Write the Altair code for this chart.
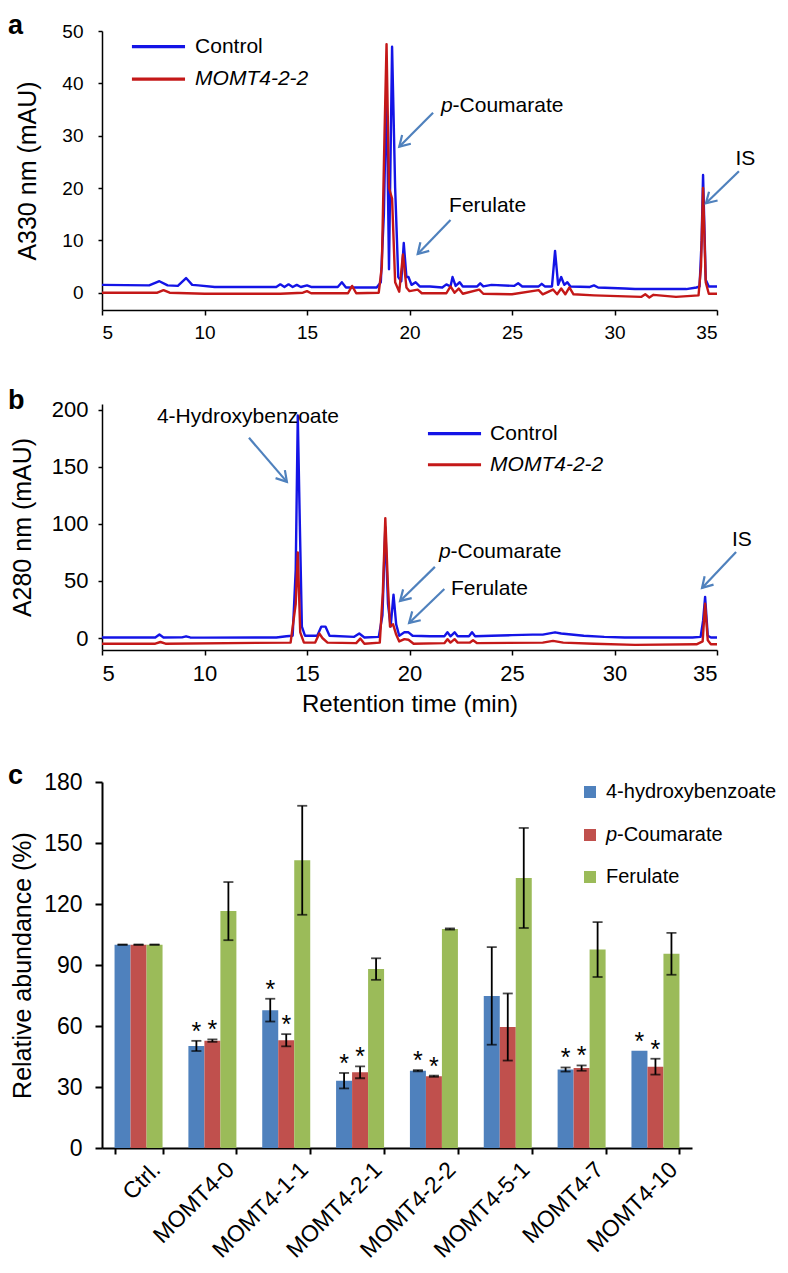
import math
import altair as alt
import pandas as pd

# ---------------- Panel a : A330 chromatograms (time min, mAU) ----------------
control_a = [(5.0, 1.5), (7.3, 1.4), (7.8, 2.2), (8.2, 1.4), (8.7, 1.3), (9.1, 2.8), (9.4, 1.5), (9.7, 1.4),
             (10.5, 1.1), (13.5, 1.1), (13.7, 1.6), (13.9, 1.1), (14.1, 1.6), (14.3, 1.1), (14.5, 1.5),
             (14.7, 1.1), (15.0, 1.4), (15.2, 1.1), (16.5, 1.1), (16.7, 2.0), (16.9, 1.0), (18.4, 1.0),
             (18.6, 2.0), (18.75, 15.0), (18.88, 40.0), (19.0, 4.5), (19.15, 47.0), (19.3, 20.0), (19.45, 3.0),
             (19.6, 2.2), (19.72, 9.5), (19.85, 3.0), (19.95, 3.0), (20.1, 1.5), (20.3, 2.0), (20.5, 1.2),
             (21.0, 1.2), (21.6, 1.0), (21.8, 1.6), (22.0, 1.2), (22.1, 3.0), (22.25, 1.3), (22.45, 2.0),
             (22.6, 1.2), (23.3, 1.2), (23.45, 1.8), (23.6, 1.2), (24.0, 1.5), (25.1, 1.3), (25.3, 1.8),
             (25.5, 1.2), (26.3, 1.2), (26.45, 1.7), (26.6, 1.2), (26.95, 1.2), (27.1, 8.0), (27.25, 1.5),
             (27.4, 3.0), (27.55, 1.5), (27.7, 2.0), (27.85, 1.2), (28.8, 1.1), (29.0, 1.4), (29.2, 1.0),
             (30.5, 0.8), (31.0, 0.7), (33.5, 0.7), (34.0, 1.0), (34.15, 1.2), (34.25, 10.0), (34.32, 22.5),
             (34.45, 2.5), (34.6, 1.2), (35.0, 1.2)]
momt_a = [(5.0, 0.0), (7.7, 0.0), (8.0, 0.5), (8.3, 0.0), (10.0, -0.2), (13.7, -0.2), (14.8, 0.0), (15.0, 0.3),
          (15.2, -0.1), (17.0, -0.1), (17.2, 1.3), (17.4, -0.1), (18.5, 0.0), (18.65, 5.0), (18.78, 30.0),
          (18.88, 47.5), (19.0, 20.0), (19.15, 18.0), (19.3, 2.0), (19.5, 0.2), (19.68, 7.3), (19.85, 1.0),
          (20.0, 0.3), (20.4, 0.6), (20.6, -0.1), (21.8, -0.1), (22.0, 1.2), (22.2, 0.0), (22.4, 0.8),
          (22.6, -0.2), (23.4, 0.6), (23.6, -0.2), (25.0, -0.3), (26.3, 0.5), (26.5, -0.3), (27.0, 0.6),
          (27.2, -0.3), (27.4, 0.8), (27.6, -0.3), (27.8, 1.0), (28.0, -0.3), (29.0, -0.5), (31.3, -0.8),
          (31.5, -0.3), (31.7, -0.9), (31.9, -0.4), (33.0, -0.8), (34.1, -0.5), (34.22, 5.0), (34.32, 20.0),
          (34.45, 2.0), (34.6, -0.2), (35.0, -0.2)]

# ---------------- Panel b : A280 chromatograms ----------------
control_b = [(5.0, 0.5), (7.6, 0.5), (7.8, 3.0), (8.0, 0.5), (8.9, 0.6), (9.1, 1.5), (9.3, 0.5), (10.0, 0.3),
             (13.5, 0.5), (14.0, 1.5), (14.3, 2.0), (14.45, 60.0), (14.55, 195.0), (14.65, 100.0),
             (14.75, 10.0), (14.9, 2.0), (15.5, 2.0), (15.7, 10.0), (15.9, 10.0), (16.1, 2.0), (17.3, 1.0),
             (17.55, 4.0), (17.8, 0.5), (18.5, 1.0), (18.68, 20.0), (18.82, 97.0), (18.95, 30.0), (19.08, 10.0),
             (19.22, 38.0), (19.35, 12.0), (19.5, 2.0), (19.75, 5.0), (19.95, 5.0), (20.15, 2.0), (21.0, 1.5),
             (21.7, 1.5), (21.85, 5.0), (22.0, 1.5), (22.2, 5.0), (22.35, 1.5), (22.9, 1.5), (23.05, 5.0),
             (23.2, 1.5), (24.0, 2.0), (25.0, 2.5), (26.0, 3.0), (26.5, 3.0), (27.1, 5.0), (27.4, 4.0),
             (28.5, 2.0), (29.5, 1.0), (30.5, 0.5), (33.8, 0.5), (34.2, 1.0), (34.32, 15.0), (34.42, 36.0),
             (34.55, 2.0), (34.7, 0.5), (35.0, 0.5)]
momt_b = [(5.0, -5.0), (7.6, -5.0), (7.85, -3.5), (8.1, -5.0), (14.2, -4.0), (14.45, 30.0), (14.55, 75.0),
          (14.67, 5.0), (14.85, -4.0), (15.4, -4.0), (15.6, 4.0), (15.75, 0.0), (16.0, -4.0), (17.4, -4.5),
          (17.6, -0.5), (17.8, -5.0), (18.55, -4.0), (18.7, 40.0), (18.82, 105.0), (18.95, 45.0),
          (19.05, 10.0), (19.2, 12.0), (19.35, 3.0), (19.5, -3.0), (19.75, -1.0), (19.95, -1.5),
          (20.2, -5.0), (21.7, -4.5), (21.85, -1.0), (22.0, -4.0), (22.2, -1.0), (22.35, -4.0),
          (22.95, -4.0), (23.1, -2.0), (23.3, -4.5), (26.5, -4.0), (27.0, -2.5), (27.5, -4.0), (29.0, -5.0),
          (31.0, -6.0), (34.0, -5.5), (34.3, -3.0), (34.42, 30.0), (34.55, -2.0), (34.7, -5.5), (35.0, -5.5)]

# annotations (text, t, value, italic leading "p")
labels_a = [("Coumarate", 21.54, 35.7, True), ("Ferulate", 21.93, 16.5, False), ("IS", 35.9, 25.6, False)]
labels_b = [("Coumarate", 21.44, 75.4, True), ("Ferulate", 22.02, 43.0, False), ("IS", 35.73, 86.0, False)]
label_b_hb = ("4-Hydroxybenzoate", 12.12, 193.9)
# arrows (tail t, tail v, tip t, tip v)
arrows_a = [(21.15, 34.4, 19.5, 27.9), (22.0, 13.9, 20.4, 7.4), (36.07, 23.2, 34.46, 17.1)]
arrows_b = [(12.17, 175.4, 14.02, 136.8), (21.24, 62.3, 19.54, 32.5), (21.7, 43.0, 19.98, 13.2),
            (35.93, 75.4, 34.27, 43.9)]
legend_names = ["Control", "MOMT4-2-2"]

# ---------------- Panel c : relative abundance ----------------
groups = ["Ctrl.", "MOMT4-0", "MOMT4-1-1", "MOMT4-2-1", "MOMT4-2-2", "MOMT4-5-1", "MOMT4-7", "MOMT4-10"]
series_c = ["4-hydroxybenzoate", "p-Coumarate", "Ferulate"]
hba_mean = [100, 50.2, 67.8, 33.1, 38.0, 74.8, 38.6, 47.8]
hba_err = [0, 2.5, 5.6, 3.8, 0.3, 24.0, 1.0, None]
pca_mean = [100, 52.8, 53.0, 37.2, 35.3, 59.5, 39.3, 40.0]
pca_err = [0, 0.6, 3.0, 2.9, 0.3, 16.5, 1.3, 3.9]
fer_mean = [100, 116.5, 141.5, 88.0, 107.7, 132.8, 97.6, 95.5]
fer_err = [0, 14.3, 26.8, 5.3, 0.3, 24.6, 13.5, 10.3]
sig_hba = [0, 1, 1, 1, 1, 0, 1, 1]
sig_pca = [0, 1, 1, 1, 1, 0, 1, 1]
sig_fer = [0, 0, 0, 0, 0, 0, 0, 0]

# ---------------- styles ----------------
SANS = "Liberation Sans, Arial, Helvetica, sans-serif"
NARROW = "Liberation Sans Narrow, Liberation Sans, Arial, sans-serif"
BLUE_LINE = "#1414e6"
RED_LINE = "#c41818"
ARROW = "#4f81bd"
BAR_COLORS = ["#4f81bd", "#c0504d", "#9bbb59"]
LETTER_X = -94
LETTER_SIZE = 27
ANN_SIZE = 21


def letter_layers(letter, baseline_y, guard=False):
    out = [alt.Chart(pd.DataFrame({"s": [letter]})).mark_text(
        align="left", baseline="alphabetic", fontSize=LETTER_SIZE, fontWeight="bold", font=SANS,
        color="black").encode(text="s:N", x=alt.value(LETTER_X), y=alt.value(baseline_y))]
    if guard:
        # invisible point so the layout leaves room for the full font ascent of the letter
        out.append(alt.Chart(pd.DataFrame({"s": [letter]})).mark_point(size=1, opacity=0).encode(
            x=alt.value(LETTER_X + 6), y=alt.value(baseline_y - 0.92 * LETTER_SIZE)))
    return out


def chrom_panel(ctrl, momt, W, H, ydom, yvals, ytitle, tick_font, tick_size, ylabpad, ytitlepad,
                xtitle, labels, arrows, leg, letter, letter_y, guard=False, extra_label=None):
    xaxis = alt.Axis(values=[5, 10, 15, 20, 25, 30, 35], title=xtitle, grid=False, tickSize=5,
                     labelPadding=8, labelFont=tick_font, labelFontSize=tick_size, titleFont=SANS,
                     titleFontSize=24, titleFontWeight="normal", titlePadding=8, domainWidth=1.5,
                     tickWidth=1.5, domainColor="black", tickColor="black", labelColor="black",
                     titleColor="black")
    yaxis = alt.Axis(values=yvals, title=ytitle, grid=False, tickSize=4, labelPadding=ylabpad,
                     labelFont=tick_font, labelFontSize=tick_size, titleFont=SANS, titleFontSize=25,
                     titleFontWeight="normal", titlePadding=ytitlepad, domainWidth=1.5, tickWidth=1.5,
                     domainColor="black", tickColor="black", labelColor="black", titleColor="black")
    xs = alt.Scale(domain=[5, 35], nice=False, zero=False)
    ys = alt.Scale(domain=list(ydom), nice=False, zero=False)

    def X(f):
        return alt.X(f"{f}:Q", scale=xs, axis=xaxis, title=xtitle)

    def Y(f):
        return alt.Y(f"{f}:Q", scale=ys, axis=yaxis, title=ytitle)

    d_ctrl = pd.DataFrame(ctrl, columns=["t", "v"])
    d_momt = pd.DataFrame(momt, columns=["t", "v"])
    layers = [
        alt.Chart(d_ctrl).mark_line(color=BLUE_LINE, strokeWidth=2.4, strokeJoin="round").encode(
            x=X("t"), y=Y("v"), order="t:Q"),
        alt.Chart(d_momt).mark_line(color=RED_LINE, strokeWidth=2.4, strokeJoin="round").encode(
            x=X("t"), y=Y("v"), order="t:Q"),
    ]
    # arrows
    rows = []
    for (t0, v0, t1, v1) in arrows:
        px0 = (t0 - 5) / 30 * W
        px1 = (t1 - 5) / 30 * W
        py0 = (ydom[1] - v0) / (ydom[1] - ydom[0]) * H
        py1 = (ydom[1] - v1) / (ydom[1] - ydom[0]) * H
        ang = math.degrees(math.atan2(py1 - py0, px1 - px0)) % 360
        rows.append(dict(t=t0, v=v0, t2=t1, v2=v1, ang=ang))
    d_arr = pd.DataFrame(rows)
    layers.append(alt.Chart(d_arr).mark_rule(color=ARROW, strokeWidth=2.2).encode(
        x=X("t"), y=Y("v"), x2="t2:Q", y2="v2:Q"))
    layers.append(alt.Chart(d_arr).mark_point(shape="M-1,-0.6L0,0L-1,0.6", filled=False, size=420,
                                              strokeWidth=2.2, color=ARROW, opacity=1).encode(
        x=X("t2"), y=Y("v2"), angle=alt.Angle("ang:Q", scale=None)))
    # texts
    for (txt, t, v, ital) in labels:
        d = pd.DataFrame({"t": [t], "v": [v], "s": [txt]})
        if ital:
            layers.append(alt.Chart(pd.DataFrame({"t": [t], "v": [v], "s": ["p"]})).mark_text(
                align="left", baseline="middle", fontSize=ANN_SIZE, font=SANS, fontStyle="italic",
                color="black").encode(x=X("t"), y=Y("v"), text="s:N"))
            d = pd.DataFrame({"t": [t], "v": [v], "s": ["-" + txt]})
            layers.append(alt.Chart(d).mark_text(align="left", baseline="middle", fontSize=ANN_SIZE,
                                                 font=SANS, dx=11.5, color="black").encode(
                x=X("t"), y=Y("v"), text="s:N"))
        else:
            layers.append(alt.Chart(d).mark_text(align="left", baseline="middle", fontSize=ANN_SIZE,
                                                 font=SANS, color="black").encode(
                x=X("t"), y=Y("v"), text="s:N"))
    if extra_label is not None:
        txt, t, v = extra_label
        d = pd.DataFrame({"t": [t], "v": [v], "s": [txt]})
        layers.append(alt.Chart(d).mark_text(align="center", baseline="middle", fontSize=ANN_SIZE, font=SANS,
                                             color="black").encode(x=X("t"), y=Y("v"), text="s:N"))
    # legend
    (lt0, lt1, ltx, lv) = leg
    for name, col, vv, ital in zip(legend_names, [BLUE_LINE, RED_LINE], lv, [False, True]):
        d = pd.DataFrame({"t": [lt0], "t2": [lt1], "v": [vv], "tx": [ltx], "s": [name]})
        layers.append(alt.Chart(d).mark_rule(color=col, strokeWidth=3.2).encode(
            x=X("t"), x2="t2:Q", y=Y("v")))
        layers.append(alt.Chart(d).mark_text(align="left", baseline="middle", fontSize=ANN_SIZE, font=SANS,
                                             fontStyle="italic" if ital else "normal", color="black").encode(
            x=X("tx"), y=Y("v"), text="s:N"))
    layers += letter_layers(letter, letter_y, guard)
    return alt.layer(*layers).properties(width=W, height=H)


panel_a = chrom_panel(control_a, momt_a, 615, 279, (-3.3, 50), [0, 10, 20, 30, 40, 50], "A330 nm (mAU)",
                      NARROW, 19, 15, 21, None, labels_a, arrows_a,
                      (6.46, 9.05, 9.54, [47.0, 40.8]), "a", 3, guard=True)
panel_b = chrom_panel(control_b, momt_b, 615, 246, (-10.5, 205), [0, 50, 100, 150, 200], "A280 nm (mAU)",
                      SANS, 22, 10, 16, "Retention time (min)", labels_b, arrows_b,
                      (20.9, 23.49, 23.93, [179.0, 151.8]), "b", 5, extra_label=label_b_hb)

# ---------------- Panel c ----------------
rows = []
for i, g in enumerate(groups):
    for s, means, errs, sig in zip(series_c, [hba_mean, pca_mean, fer_mean], [hba_err, pca_err, fer_err],
                                   [sig_hba, sig_pca, sig_fer]):
        e = errs[i]
        rows.append(dict(g=g, s=s, m=means[i],
                         lo=(means[i] - e) if e is not None else None,
                         hi=(means[i] + e) if e is not None else None,
                         top=(means[i] + e) if e is not None else means[i],
                         sig=sig[i], star="*"))
dc = pd.DataFrame(rows)

xc_axis = alt.Axis(title=None, labelAngle=-45, labelFont=SANS, labelFontSize=23, labelPadding=4,
                   labelOffset=10, tickBand="extent", tickSize=6, tickWidth=2, domainWidth=2,
                   domainColor="black", tickColor="black", labelColor="black")
yc_axis = alt.Axis(values=[0, 30, 60, 90, 120, 150, 180], title="Relative abundance (%)", grid=False,
                   tickSize=7, tickWidth=2, domainWidth=2, labelPadding=13, labelFont=SANS, labelFontSize=23,
                   titleFont=SANS, titleFontSize=25, titleFontWeight="normal", titlePadding=8,
                   domainColor="black", tickColor="black", labelColor="black", titleColor="black")
xc_scale = alt.Scale(paddingInner=0.35, paddingOuter=0.17)
yc_scale = alt.Scale(domain=[0, 180], nice=False)


def XC():
    return alt.X("g:N", sort=groups, scale=xc_scale, axis=xc_axis, title=None)


def XO():
    return alt.XOffset("s:N", sort=series_c, scale=alt.Scale(domain=series_c, paddingInner=0, paddingOuter=0))


def YC(f):
    return alt.Y(f"{f}:Q", scale=yc_scale, axis=yc_axis, title="Relative abundance (%)")


bars = alt.Chart(dc).mark_bar().encode(
    x=XC(), xOffset=XO(), y=YC("m"),
    color=alt.Color("s:N", scale=alt.Scale(domain=series_c, range=BAR_COLORS), legend=None))
errs = alt.Chart(dc).transform_filter("isValid(datum.hi)").mark_rule(color="black", strokeWidth=1.8).encode(
    x=XC(), xOffset=XO(), y=YC("lo"), y2="hi:Q")
cap_hi = alt.Chart(dc).transform_filter("isValid(datum.hi)").mark_tick(
    color="black", size=10, thickness=1.8, orient="horizontal").encode(x=XC(), xOffset=XO(), y=YC("hi"))
cap_lo = alt.Chart(dc).transform_filter("isValid(datum.hi)").mark_tick(
    color="black", size=10, thickness=1.8, orient="horizontal").encode(x=XC(), xOffset=XO(), y=YC("lo"))
stars = alt.Chart(dc).transform_filter("datum.sig == 1").mark_text(
    fontSize=25, font=SANS, baseline="alphabetic", dy=-1, color="black").encode(
    x=XC(), xOffset=XO(), y=YC("top"), text="star:N")

layers_c = [bars, errs, cap_hi, cap_lo, stars]
leg_y = [10, 53, 95]
LEG_SQ_X = 488
LEG_TX_X = 504
for name, col, yy in zip(series_c, BAR_COLORS, leg_y):
    d = pd.DataFrame({"s": [name]})
    layers_c.append(alt.Chart(d).mark_square(size=144, color=col, opacity=1).encode(
        x=alt.value(LEG_SQ_X), y=alt.value(yy)))
    if name.startswith("p-"):
        layers_c.append(alt.Chart(pd.DataFrame({"s": ["p"]})).mark_text(
            align="left", baseline="middle", fontSize=20, font=SANS, fontStyle="italic", color="black").encode(
            x=alt.value(LEG_TX_X), y=alt.value(yy), text="s:N"))
        layers_c.append(alt.Chart(pd.DataFrame({"s": [name[1:]]})).mark_text(
            align="left", baseline="middle", fontSize=20, font=SANS, color="black", dx=11).encode(
            x=alt.value(LEG_TX_X), y=alt.value(yy), text="s:N"))
    else:
        layers_c.append(alt.Chart(d).mark_text(
            align="left", baseline="middle", fontSize=20, font=SANS, color="black").encode(
            x=alt.value(LEG_TX_X), y=alt.value(yy), text="s:N"))
layers_c += letter_layers("c", 2)

panel_c = alt.layer(*layers_c).properties(width=590, height=366)

top = alt.vconcat(panel_a, panel_b, spacing=45)
chart = alt.vconcat(top, panel_c, spacing=46, padding=0).configure(
    font=SANS).configure_view(strokeWidth=0)

chart.save("out.html", embed_options={"renderer": "svg", "actions": False})
